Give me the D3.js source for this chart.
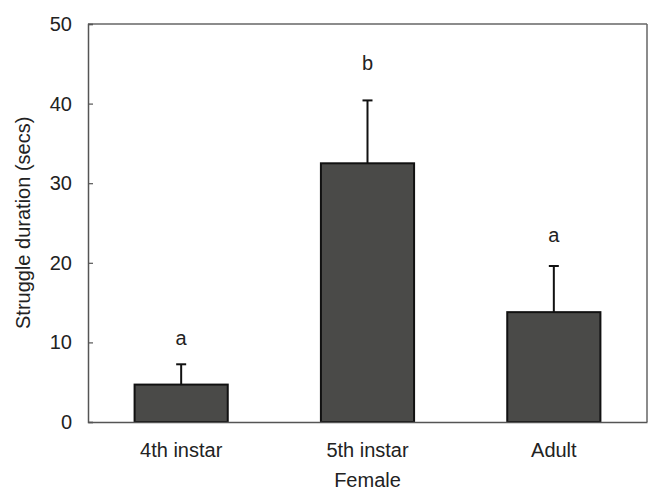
<!DOCTYPE html>
<html><head><meta charset="utf-8">
<script src="https://cdn.jsdelivr.net/npm/d3@7"></script>
<style>body{margin:0;background:#fff}svg{display:block}text{font-family:"Liberation Sans",Arial,sans-serif;fill:#222}</style>
</head><body>
<svg id="c" width="649" height="493"></svg>
<script>
const categories = ["4th instar", "5th instar", "Adult"];
const means = [4.7, 32.5, 13.8];
const errors = [2.55, 7.9, 5.8];
const letters = ["a", "b", "a"];
const letterHeights = [9.65, 44.2, 22.6];
const yTicks = [0, 10, 20, 30, 40, 50];

const FS = 20;
const svg = d3.select("#c");
const L = 88, R = 647, T = 24, B = 422;
const x = d3.scaleBand().domain(categories).range([L, R]).paddingInner(0.5).paddingOuter(0.25);
const y = d3.scaleLinear().domain([0, 50]).range([B, T]);

// frame top/right
svg.append("line").attr("x1", L).attr("x2", R).attr("y1", T).attr("y2", T).attr("stroke", "#666").attr("stroke-width", 1.5);
svg.append("line").attr("x1", R).attr("x2", R).attr("y1", T).attr("y2", B).attr("stroke", "#666").attr("stroke-width", 1.5);

// error bars and letters
const g = svg.append("g");
categories.forEach((c, i) => {
  const cx = x(c) + x.bandwidth() / 2;
  g.append("line").attr("x1", cx).attr("x2", cx).attr("y1", y(means[i])).attr("y2", y(means[i] + errors[i])).attr("stroke", "#111").attr("stroke-width", 2);
  g.append("line").attr("x1", cx - 5).attr("x2", cx + 5).attr("y1", y(means[i] + errors[i])).attr("y2", y(means[i] + errors[i])).attr("stroke", "#111").attr("stroke-width", 2);
  svg.append("text").attr("x", cx).attr("y", y(letterHeights[i])).attr("text-anchor", "middle").attr("font-size", FS).text(letters[i]);
});

// bars
svg.append("g").selectAll("rect").data(categories).join("rect")
  .attr("x", d => x(d)).attr("width", x.bandwidth())
  .attr("y", (d, i) => y(means[i])).attr("height", (d, i) => B - y(means[i]))
  .attr("fill", "#4a4a48").attr("stroke", "#111").attr("stroke-width", 2);

// y axis
const ya = svg.append("g").attr("transform", `translate(${L},0)`)
  .call(d3.axisLeft(y).tickValues(yTicks).tickSize(-5).tickPadding(16).tickFormat(d3.format("d")));
ya.select(".domain").attr("stroke", "#555").attr("stroke-width", 1.5);
ya.selectAll(".tick line").attr("stroke", "#555").attr("stroke-width", 1.2);
ya.selectAll(".tick text").attr("font-size", FS).attr("fill", "#222").attr("font-family", "Liberation Sans, Arial, sans-serif");

// x axis
const xa = svg.append("g").attr("transform", `translate(0,${B})`)
  .call(d3.axisBottom(x).tickSize(0).tickPadding(0));
xa.select(".domain").attr("stroke", "#555").attr("stroke-width", 1.5);
xa.selectAll(".tick text").attr("font-size", FS).attr("fill", "#222").attr("dy", null).attr("y", 35).attr("font-family", "Liberation Sans, Arial, sans-serif");

// axis titles
svg.append("text").attr("x", (L + R) / 2).attr("y", 487).attr("text-anchor", "middle").attr("font-size", FS).text("Female");
svg.append("text").attr("transform", "translate(30,329) rotate(-90)").attr("text-anchor", "start").attr("font-size", FS).text("Struggle duration (secs)");
</script>
</body></html>
